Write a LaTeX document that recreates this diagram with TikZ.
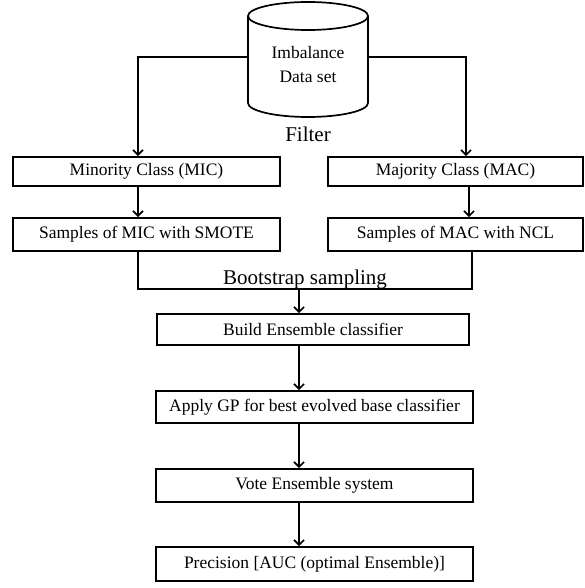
\documentclass[tikz,border=0pt]{standalone}
\usepackage{fontspec}
\setmainfont{Liberation Serif}
\usepackage{tikz}
\usetikzlibrary{shapes,arrows,arrows.meta, positioning}
\tikzstyle{pbox} = [rectangle, draw, line width=1.7pt, inner sep=0pt, font=\fontsize{17.5}{20}\selectfont]
\tikzstyle{lbl} = [inner sep=0pt, anchor=base, font=\fontsize{21}{24}\selectfont]
\tikzstyle{line} = [draw, line width=1.7pt]
\tikzstyle{arrowline} = [draw, line width=1.7pt, -{Straight Barb[length=5pt, width=10pt]}]

\begin{document}
\begin{tikzpicture}[x=1pt, y=1pt]
				\path [use as bounding box, fill=white] (0,0) rectangle (585,-588);

				% data set cylinder
				\path [line] (248,-16) -- (248,-103) arc [start angle=180, end angle=360, x radius=60, y radius=14] -- (368,-16);
				\path [line] (308,-16) ellipse [x radius=60, y radius=14];
				\node [inner sep=0pt, minimum width=120pt, align=center, font=\fontsize{17.5}{24}\selectfont] (db) at (308,-65) {Imbalance\\Data set};

				\node [lbl] (filter) at (308,-142) {Filter};
				\node [pbox, minimum width=267pt, minimum height=29pt] (mic) at (146.5,-171.5) {Minority Class (MIC)};
				\node [pbox, minimum width=255pt, minimum height=29pt] (mac) at (455.5,-171.5) {Majority Class (MAC)};
				\node [pbox, minimum width=267pt, minimum height=33pt] (smic) at (146.5,-234.5) {Samples of MIC with SMOTE};
				\node [pbox, minimum width=255pt, minimum height=33pt] (smac) at (455.5,-234.5) {Samples of MAC with NCL};
				\node [lbl] (boot) at (305,-284) {Bootstrap sampling};
				\node [pbox, minimum width=312pt, minimum height=31pt] (build) at (313,-329.5) {Build Ensemble classifier};
				\node [pbox, minimum width=317pt, minimum height=32pt] (apply) at (314.5,-407) {Apply GP for best evolved base classifier};
				\node [pbox, minimum width=317pt, minimum height=33pt] (vote) at (314.5,-485.5) {Vote Ensemble system};
				\node [pbox, minimum width=317pt, minimum height=34pt] (prec) at (314.5,-564) {Precision [AUC (optimal Ensemble)]};

				\coordinate (tl) at (138,-57);
				\coordinate (tr) at (466,-57);
				\coordinate (jl) at (138,-289);
				\coordinate (jm) at (299,-289);
				\coordinate (jr) at (472,-289);

				\path [arrowline] (db.west |- tl) -- (tl) -- (mic.north -| tl);
				\path [arrowline] (db.east |- tr) -- (tr) -- (mac.north -| tr);
				\path [arrowline] (mic.south -| tl) -- (smic.north -| tl);
				\path [arrowline] ([xshift=13.5pt]mac.south) -- ([xshift=13.5pt]smac.north);
				\path [line] (smic.south -| jl) -- (jl) -- (jr) -- (smac.south -| jr);
				\path [arrowline] (jm) -- (build.north -| jm);
				\path [arrowline] (build.south -| jm) -- (apply.north -| jm);
				\path [arrowline] (apply.south -| jm) -- (vote.north -| jm);
				\path [arrowline] (vote.south -| jm) -- (prec.north -| jm);
			\end{tikzpicture}
\end{document}
